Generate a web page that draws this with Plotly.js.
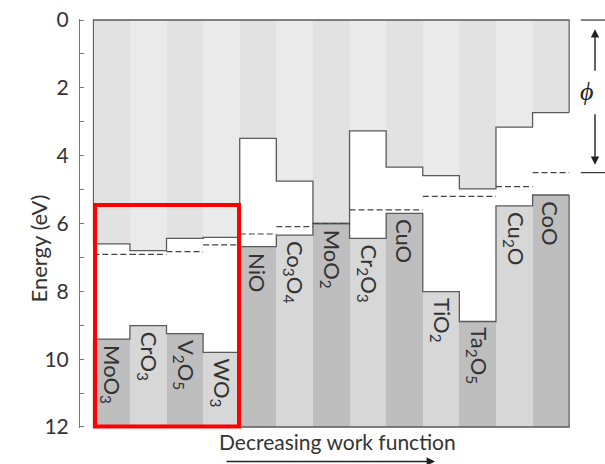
<!DOCTYPE html>
<html>
<head>
<meta charset="utf-8">
<script src="https://cdn.plot.ly/plotly-3.0.1.min.js"></script>
<style>html,body{margin:0;padding:0;background:#fff}</style>
</head>
<body>
<div id="chart" style="width:605px;height:464px"></div>
<script>
// Oxides ordered by decreasing work function
const oxides = ["MoO3","CrO3","V2O5","WO3","NiO","Co3O4","MoO2","Cr2O3","CuO","TiO2","Ta2O5","Cu2O","CoO"];
const oxideLabels = ["MoO<sub>3</sub>","CrO<sub>3</sub>","V<sub>2</sub>O<sub>5</sub>","WO<sub>3</sub>","NiO",
  "Co<sub>3</sub>O<sub>4</sub>","MoO<sub>2</sub>","Cr<sub>2</sub>O<sub>3</sub>","CuO","TiO<sub>2</sub>",
  "Ta<sub>2</sub>O<sub>5</sub>","Cu<sub>2</sub>O","CoO"];
// Conduction band edge (electron affinity), eV below vacuum
const cbEdge = [6.60, 6.80, 6.44, 6.41, 3.49, 4.75, 6.00, 3.27, 4.34, 4.59, 4.98, 3.16, 2.73];
// Valence band edge (ionization energy), eV
const vbEdge = [9.41, 9.01, 9.25, 9.80, 6.68, 6.34, 6.00, 6.44, 5.70, 8.01, 8.89, 5.48, 5.16];
// Fermi level (work function), eV
const fermi = [6.91, 6.91, 6.83, 6.63, 6.31, 6.09, 6.00, 5.60, 5.60, 5.20, 5.20, 4.91, 4.50];
const yTicks = [0, 2, 4, 6, 8, 10, 12];
const yMax = 12;

const idx = oxides.map((_, i) => i);
const n = oxides.length;
const upperColors = idx.map(i => i % 2 === 0 ? "#e2e2e2" : "#eaeaea");
const lowerColors = idx.map(i => i % 2 === 0 ? "#bebebe" : "#d7d7d7");
const edgeCol = "#5a5a5a";

const traces = [];
// vacuum -> CB region
traces.push({type: "bar", x: idx, y: cbEdge, base: idx.map(() => 0), width: 1,
  marker: {color: upperColors, line: {width: 0}}, hoverinfo: "skip", showlegend: false});
// VB -> bottom region
traces.push({type: "bar", x: idx, y: vbEdge.map(v => yMax - v), base: vbEdge, width: 1,
  marker: {color: lowerColors, line: {width: 0}}, hoverinfo: "skip", showlegend: false});

// CB step outline with frame
traces.push({type: "scatter", mode: "lines", x: [-0.5, -0.5, n - 0.5, n - 0.5],
  y: [cbEdge[0], 0, 0, cbEdge[n - 1]], line: {color: edgeCol, width: 1.3},
  hoverinfo: "skip", showlegend: false});
const stepX = idx.map(i => i - 0.5).concat([n - 0.5]);
traces.push({type: "scatter", mode: "lines", x: stepX, y: cbEdge.concat([cbEdge[n - 1]]),
  line: {color: edgeCol, width: 1.3, shape: "hv"}, hoverinfo: "skip", showlegend: false});
// VB step outline with frame
traces.push({type: "scatter", mode: "lines", x: stepX, y: vbEdge.concat([vbEdge[n - 1]]),
  line: {color: edgeCol, width: 1.3, shape: "hv"}, hoverinfo: "skip", showlegend: false});
traces.push({type: "scatter", mode: "lines", x: [-0.5, -0.5, n - 0.5, n - 0.5],
  y: [vbEdge[0], yMax, yMax, vbEdge[n - 1]], line: {color: edgeCol, width: 1.3},
  hoverinfo: "skip", showlegend: false});
// Fermi levels (dashed)
const fx = [], fy = [];
idx.forEach(i => { fx.push(i - 0.5, i + 0.5, null); fy.push(fermi[i], fermi[i], null); });
traces.push({type: "scatter", mode: "lines", x: fx, y: fy,
  line: {color: "#444", width: 1.2, dash: "6px,3px"}, hoverinfo: "skip", showlegend: false});

const font = "Lato, 'Open Sans', sans-serif";
const annotations = idx.map(i => ({
  x: i, y: vbEdge[i], xref: "x", yref: "y", text: oxideLabels[i], showarrow: false,
  textangle: 90, xanchor: "center", yanchor: "top", yshift: -4,
  font: {family: font, size: 22, color: "#333"}
}));
// phi arrows
annotations.push({xref: "paper", yref: "y", x: 0.981, y: 0.27, ax: 0, ay: 43, axref: "pixel", ayref: "pixel",
  text: "", showarrow: true, arrowhead: 2, arrowsize: 1.2, arrowwidth: 1.4, arrowcolor: "#222", standoff: 0});
annotations.push({xref: "paper", yref: "y", x: 0.981, y: 4.27, ax: 0, ay: -52, axref: "pixel", ayref: "pixel",
  text: "", showarrow: true, arrowhead: 2, arrowsize: 1.2, arrowwidth: 1.4, arrowcolor: "#222", standoff: 0});
annotations.push({xref: "paper", yref: "y", x: 0.981, y: 2.12, text: "<i>ϕ</i>", showarrow: false,
  font: {family: "'Liberation Serif', serif", size: 26, color: "#222"}});
// y title
annotations.push({xref: "paper", yref: "paper", x: -0.1065, y: 0.44, text: "Energy (eV)", textangle: -90,
  showarrow: false, font: {family: font, size: 22, color: "#333"}});
// bottom text & arrow
annotations.push({xref: "paper", yref: "paper", x: 0.4905, y: -0.034, text: "Decreasing work function",
  showarrow: false, yanchor: "middle", font: {family: font, size: 21, color: "#333"}});
annotations.push({xref: "paper", yref: "paper", x: 0.6768, y: -0.082, ax: -210, ay: 0, axref: "pixel", ayref: "pixel",
  text: "", showarrow: true, arrowhead: 2, arrowsize: 1.2, arrowwidth: 1.4, arrowcolor: "#222", standoff: 0});

const shapes = [
  {type: "line", xref: "paper", yref: "y", x0: 0.954, x1: 1.0, y0: 0, y1: 0, line: {color: "#333", width: 1.2}},
  {type: "line", xref: "paper", yref: "y", x0: 0.954, x1: 1.0, y0: 4.5, y1: 4.5, line: {color: "#333", width: 1.2}},
  {type: "rect", xref: "paper", yref: "paper", x0: 0.0304, x1: 0.3042, y0: 0.0037, y1: 0.545,
    line: {color: "#ff0000", width: 4}, fillcolor: "rgba(0,0,0,0)", layer: "above"}
];

const layout = {
  width: 605, height: 464,
  margin: {l: 79, r: 0, t: 19, b: 36, pad: 0},
  paper_bgcolor: "#fff", plot_bgcolor: "#fff",
  bargap: 0, barmode: "overlay",
  showlegend: false,
  xaxis: {domain: [0.0258, 0.9333], range: [-0.52, n - 0.48], showgrid: false, zeroline: false,
    showticklabels: false, ticks: "", showline: false, fixedrange: true},
  yaxis: {range: [yMax + 0.03, -0.03], anchor: "free", position: 0, tickvals: yTicks,
    ticktext: yTicks.map(String), ticks: "inside", ticklen: 4, tickwidth: 1, tickcolor: "#777",
    minor: {dtick: 1, ticks: "inside", ticklen: 4, tickcolor: "#777", showgrid: false},
    showline: true, linecolor: "#777", linewidth: 1, showgrid: false, zeroline: false,
    ticklabelstandoff: 6, tickfont: {family: font, size: 21, color: "#333"}},
  annotations: annotations,
  shapes: shapes,
  font: {family: font}
};

Plotly.newPlot("chart", traces, layout, {staticPlot: true, displayModeBar: false});
</script>
</body>
</html>
